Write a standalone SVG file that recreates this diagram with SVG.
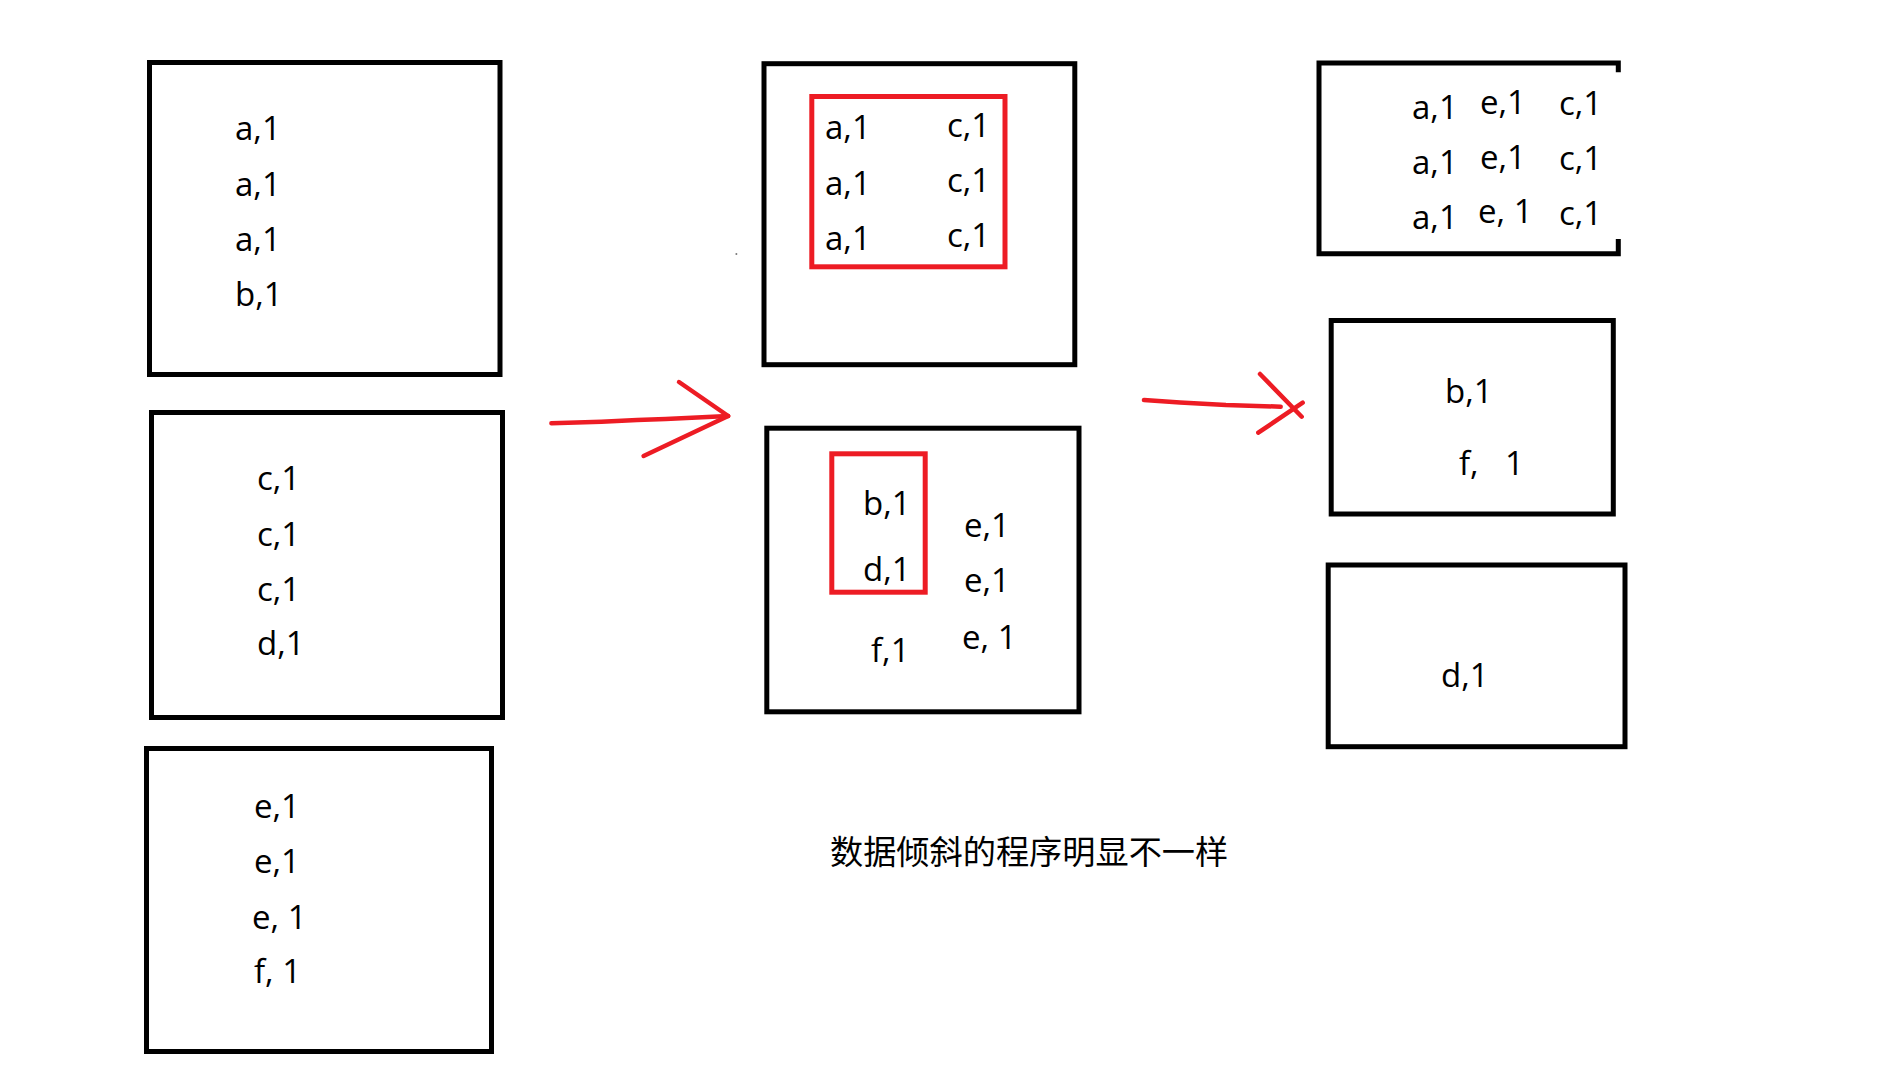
<svg xmlns="http://www.w3.org/2000/svg" width="1888" height="1076" viewBox="0 0 1888 1076">
<style>
.box{fill:none;stroke:#000;stroke-width:5}
.hl{fill:none;stroke:#ED1C24;stroke-width:5}
.arr{fill:none;stroke:#ED1C24;stroke-width:4.5;stroke-linecap:round;stroke-linejoin:round}
text{font-family:"Open Sans","Noto Sans",sans-serif;font-size:33px;fill:#000}
.cap{font-family:"Noto Sans CJK SC",sans-serif;font-size:33.2px}
</style>
<rect width="1888" height="1076" fill="#fff"/>
<g id="box-in-1">
<rect class="box" x="149.5" y="62.5" width="350.5" height="312"/>
<text x="235" y="140">a,1</text>
<text x="235" y="195.7">a,1</text>
<text x="235" y="250.7">a,1</text>
<text x="235" y="305.7">b,1</text>
</g>
<g id="box-in-2">
<rect class="box" x="151.5" y="412.5" width="351" height="305"/>
<text x="257" y="490">c,1</text>
<text x="257" y="545.7">c,1</text>
<text x="257" y="600.7">c,1</text>
<text x="257" y="655">d,1</text>
</g>
<g id="box-in-3">
<rect class="box" x="146.5" y="748.5" width="345" height="303"/>
<text x="254" y="818.3">e,1</text>
<text x="254" y="873.3">e,1</text>
<text x="252" y="929">e, 1</text>
<text x="254" y="983.3">f, 1</text>
</g>
<g id="box-mid-1">
<rect class="box" x="764" y="63.7" width="310.8" height="301"/>
<rect class="hl" x="811.8" y="96.5" width="193.2" height="170.3"/>
<text x="825" y="139.3">a,1</text>
<text x="825" y="195">a,1</text>
<text x="825" y="250">a,1</text>
<text x="947" y="136.7">c,1</text>
<text x="947" y="192">c,1</text>
<text x="947" y="246.7">c,1</text>
</g>
<g id="box-mid-2">
<rect class="box" x="766.8" y="428.2" width="312.2" height="283.6"/>
<rect class="hl" x="831.8" y="453.8" width="93.4" height="138.4"/>
<text x="863" y="515">b,1</text>
<text x="863" y="581">d,1</text>
<text x="871" y="662.3">f,1</text>
<text x="964" y="536.7">e,1</text>
<text x="964" y="592.3">e,1</text>
<text x="962" y="649.3">e, 1</text>
</g>
<g id="box-out-1">
<path class="box" d="M1618.3,72.3 V63 H1319 V253.8 H1618.3 V239"/>
<text x="1412" y="119.3">a,1</text>
<text x="1412" y="174.3">a,1</text>
<text x="1412" y="229">a,1</text>
<text x="1480" y="114">e,1</text>
<text x="1480" y="169">e,1</text>
<text x="1478" y="223.3">e, 1</text>
<text x="1559" y="115">c,1</text>
<text x="1559" y="170">c,1</text>
<text x="1559" y="225">c,1</text>
</g>
<g id="box-out-2">
<rect class="box" x="1331.2" y="320.5" width="282.1" height="193.5"/>
<text x="1445" y="403.3">b,1</text>
<text x="1459" y="475">f, <tspan x="1505">1</tspan></text>
</g>
<g id="box-out-3">
<rect class="box" x="1328.2" y="565" width="296.8" height="181.7"/>
<text x="1441" y="686.7">d,1</text>
</g>
<g id="connectors">
<path class="arr" d="M551.4,423.3 L601.4,421.7 L637.1,420 L665.7,419 L728.2,416"/>
<path class="arr" d="M679,382 L728.2,416 L643.6,456"/>
<path class="arr" d="M1144,400 L1180,402.5 L1226,405 L1280.7,406.7"/>
<path class="arr" d="M1260,374 L1301.7,416.7"/>
<path class="arr" d="M1258.3,432.7 L1302.7,402.7"/>
</g>
<circle cx="736.4" cy="254" r="1" fill="#777"/>
<text class="cap" x="830" y="864">数据倾斜的程序明显不一样</text>
</svg>
